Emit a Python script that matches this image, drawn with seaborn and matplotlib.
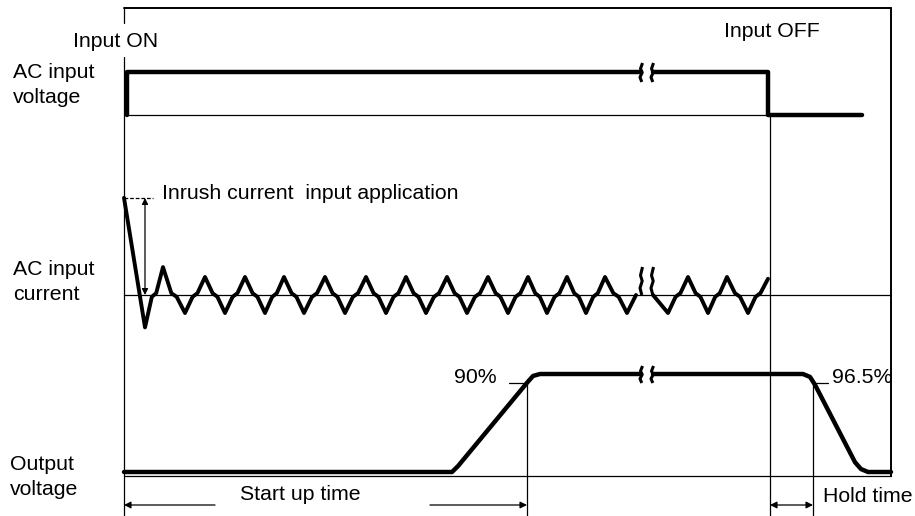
import numpy as np
import pandas as pd
import seaborn as sns
import matplotlib.pyplot as plt

sns.set_theme(style="white")
plt.rcParams['font.family'] = ['Liberation Sans', 'DejaVu Sans']

# time axis: 0 = input ON, units are arbitrary ticks of the diagram
t_off = 646        # input OFF
t_end = 767        # right edge of the frame
t_90 = 403         # output reaches 90 %
t_965 = 689        # output falls to 96.5 %
t_break = [517, 528]

# AC input voltage (0 = off, 1 = on)
volt_t1 = [3, 3, 517]
volt_v1 = [0, 1, 1]
volt_t2 = [529, 644, 644, 738]
volt_v2 = [1, 1, 0, 0]

# AC input current turning points (1 = steady state peak)
cur_t1 = [0, 21, 39, 61, 81, 101, 121, 141, 160, 180, 201, 221, 242, 262,
          282, 302, 323, 343, 364, 384, 404, 423, 443, 462, 481, 503, 512]
cur_v1 = [5.4, -1.8, 1.55, -1, 1, -1, 1, -1, 1, -1, 1, -1, 1, -1,
          1, -1, 1, -1, 1, -1, 1, -1, 1, -1, 1, -1, 0]
cur_t2 = [529, 544, 564, 584, 603, 624, 644]
cur_v2 = [0, -1, 1, -1, 1, -1, 0.9]

# output voltage (fraction of rated value)
out_t1 = [0, 328, 334, 403, 409, 416, 517]
out_v1 = [0, 0, 0.06, 0.91, 0.98, 1, 1]
out_t2 = [529, 679, 686, 691, 731, 737, 744, 767]
out_v2 = [1, 1, 0.97, 0.89, 0.10, 0.03, 0, 0]

# rows of the diagram: (zero level, size of one unit), y grows downwards
rows = {"volt": (115, 43), "cur": (295, 18), "out": (472, 98)}


def level(row, v):
    zero, unit = rows[row]
    return zero - np.asarray(v) * unit


def with_shoulders(t, v):
    # small flat step where the wave crosses zero
    tt, vv = [t[0]], [v[0]]
    for i in range(1, len(t)):
        if i > 1 and v[i - 1] * v[i] < 0:
            dt = t[i] - t[i - 1]
            tt += [t[i - 1] + 0.38 * dt, t[i - 1] + 0.62 * dt]
            vv += [0.1 * np.sign(v[i - 1]), 0.1 * np.sign(v[i])]
        tt.append(t[i])
        vv.append(v[i])
    return tt, vv


def squiggle(x, top, bottom, lw=2.2):
    h = bottom - top
    xs = [x + 1.5, x - 0.5, x + 1.2, x - 1.0, x + 0.8]
    ys = [top, top + 0.3 * h, top + 0.5 * h, top + 0.75 * h, bottom]
    ax.plot(xs, ys, color="black", lw=lw, solid_capstyle="butt")


fig = plt.figure(figsize=(9.15, 5.16), dpi=100)
ax = fig.add_axes([0, 0, 1, 1])
ax.set_xlim(-124, 791)
ax.set_ylim(516, 0)
ax.axis("off")

k = "black"
thin = 0.9

# frame and guide lines
ax.plot([0, 0], [8, 23], color=k, lw=thin)
ax.plot([0, 0], [57, 516], color=k, lw=thin)
ax.plot([0, t_end], [8, 8], color=k, lw=1.4)
ax.plot([t_end, t_end], [8, 476], color=k, lw=1.4)
ax.plot([0, t_end], [476, 476], color=k, lw=thin)
ax.plot([0, t_off], [level("volt", 0)] * 2, color=k, lw=thin)
ax.plot([0, t_end], [level("cur", 0)] * 2, color=k, lw=thin)
ax.plot([t_off, t_off], [level("volt", 0), 516], color=k, lw=thin)
ax.plot([t_90, t_90], [383, 516], color=k, lw=thin)
ax.plot([t_965, t_965], [383, 516], color=k, lw=thin)
ax.plot([t_90 - 18, t_90], [383, 383], color=k, lw=thin)
ax.plot([t_965, t_965 + 15], [383, 383], color=k, lw=thin)

# signals
sty = dict(color=k, sort=False, estimator=None, ax=ax, legend=False)
sns.lineplot(x=volt_t1, y=level("volt", volt_v1), lw=3.2, **sty)
sns.lineplot(x=volt_t2, y=level("volt", volt_v2), lw=3.2, **sty)
for tc, vc in [(cur_t1, cur_v1), (cur_t2, cur_v2)]:
    tt, vv = with_shoulders(tc, vc)
    sns.lineplot(x=tt, y=level("cur", vv), lw=2.8, **sty)
sns.lineplot(x=out_t1, y=level("out", out_v1), lw=3.2, **sty)
sns.lineplot(x=out_t2, y=level("out", out_v2), lw=3.2, **sty)

# break marks
for tb in t_break:
    squiggle(tb, level("volt", 1) - 9, level("volt", 1) + 10)
    squiggle(tb, 267, level("cur", 0))
    squiggle(tb, level("out", 1) - 8, level("out", 1) + 9)

# inrush current marker
ax.plot([0, 29], [198, 198], color=k, lw=thin, ls=(0, (3, 1.5)))
ax.annotate("", xy=(21, 198), xytext=(21, 295),
            arrowprops=dict(arrowstyle="<|-|>", color=k, lw=thin,
                            mutation_scale=9, shrinkA=0, shrinkB=0))

# time spans
ap = dict(arrowstyle="-|>", color=k, lw=thin, mutation_scale=10,
          shrinkA=0, shrinkB=0)
ax.annotate("", xy=(0, 505), xytext=(91, 505), arrowprops=ap)
ax.annotate("", xy=(t_90, 505), xytext=(306, 505), arrowprops=ap)
ax.annotate("", xy=(t_off, 505), xytext=(t_965, 505),
            arrowprops=dict(ap, arrowstyle="<|-|>"))

# texts
fs = 15.3
tx = dict(fontsize=fs, color=k, va="baseline", ha="left")
ax.text(-111, 78, "AC input", **tx)
ax.text(-111, 103, "voltage", **tx)
ax.text(-111, 275, "AC input", **tx)
ax.text(-111, 300, "current", **tx)
ax.text(-114, 470, "Output", **tx)
ax.text(-114, 495, "voltage", **tx)
ax.text(-51, 47, "Input ON", **tx)
ax.text(600, 37, "Input OFF", **tx)
ax.text(38, 199, "Inrush current  input application", **tx)
ax.text(116, 500, "Start up time", **tx)
ax.text(699, 502, "Hold time", **tx)
ax.text(t_90 - 30, 383, "90%", **dict(tx, ha="right"))
ax.text(t_965 + 19, 383, "96.5%", **tx)

plt.savefig("out.png", dpi=100)
